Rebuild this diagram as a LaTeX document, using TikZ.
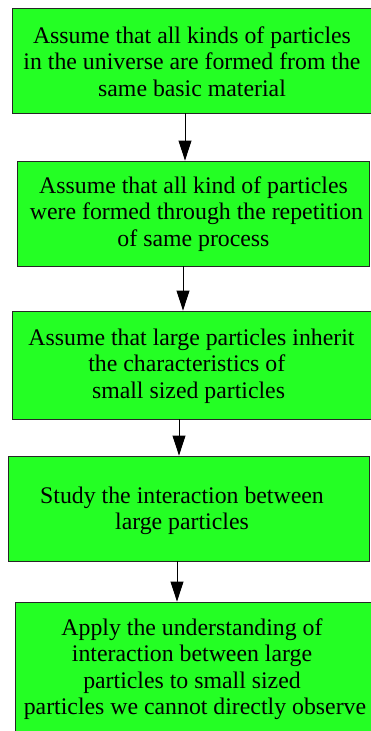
\documentclass[tikz,border=0pt]{standalone}
\usepackage{fontspec}
\setmainfont{Liberation Serif}
\usetikzlibrary{arrows.meta}
\definecolor{boxgreen}{RGB}{36,255,36}
\begin{document}
\begin{tikzpicture}[x=1pt,y=-1pt,
  box/.style={draw=black!85,line width=0.9pt,fill=boxgreen,rectangle,inner sep=0pt},
  txt/.style={anchor=base,inner sep=0pt,font=\fontsize{23.8}{26.6}\selectfont},
  arr/.style={line width=0.9pt,-{Triangle[length=20pt,width=13pt]}}]
\useasboundingbox (0,0) rectangle (371,731);
\clip (0,0) rectangle (371,731);
\renewcommand{\arraystretch}{1}\setlength{\tabcolsep}{0pt}
\node[box,minimum width=360pt,minimum height=105pt] (b1) at (192,60.5) {};
\node[box,minimum width=352pt,minimum height=105pt] (b2) at (193,213.5) {};
\node[box,minimum width=360pt,minimum height=108pt] (b3) at (192,365) {};
\node[box,minimum width=361pt,minimum height=105pt] (b4) at (188.5,508.5) {};
\node[box,minimum width=360pt,minimum height=158pt] (b5) at (195,681) {};
\node[txt] (t1) at (192,43) {\begin{tabular}[t]{c}Assume that all kinds of particles\\in the universe are formed from the\\same basic material\end{tabular}};
\node[txt] (t2) at (193.5,193) {\begin{tabular}[t]{c}Assume that all kind of particles\\\hspace*{0.25em}were formed through the repetition\\of same process\end{tabular}};
\node[txt] (t3) at (191.5,345) {\begin{tabular}[t]{c}Assume that large particles inherit\\the characteristics of\hspace*{0.4em}\\small sized particles\hspace*{0.25em}\end{tabular}};
\node[txt] (t4) at (182,503) {\begin{tabular}[t]{c}Study the interaction between\\large particles\end{tabular}};
\node[txt] (t5) at (192,635) {\begin{tabular}[t]{c}Apply the understanding of\\interaction between large\\particles to small sized\\\hspace*{0.25em}particles we cannot directly observe\end{tabular}};
\draw[arr] (185,0 |- b1.south) -- (185,0 |- b2.north);
\draw[arr] (183,0 |- b2.south) -- (183,0 |- b3.north);
\draw[arr] (179,0 |- b3.south) -- (179,0 |- b4.north);
\draw[arr] (177,0 |- b4.south) -- (177,0 |- b5.north);
\end{tikzpicture}
\end{document}
